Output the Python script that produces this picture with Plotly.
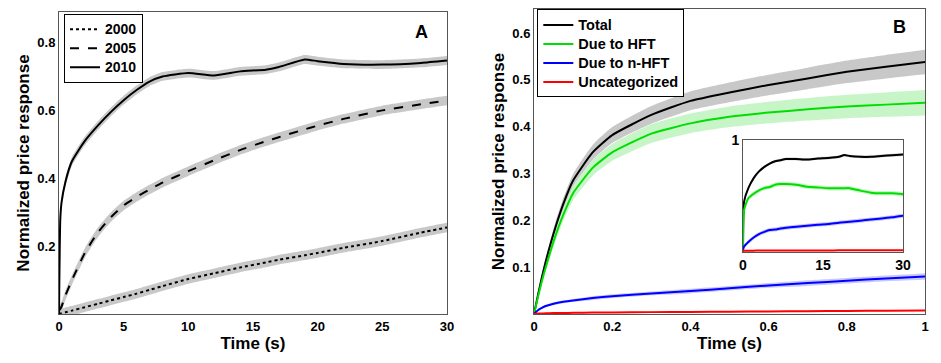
import plotly.graph_objects as go

# ---- panel A data ----
t_a = [0, 0.1, 0.2, 0.5, 1, 2, 3, 4, 5, 6, 7, 8, 10, 12, 14, 16, 17, 19, 20, 22, 25, 28, 30]
y2000 = [0, 0.001, 0.002, 0.005, 0.01, 0.02, 0.03, 0.04, 0.05, 0.06, 0.071, 0.082, 0.103,
         0.12, 0.137, 0.152, 0.16, 0.173, 0.18, 0.195, 0.215, 0.24, 0.255]
y2005 = [0.01, 0.015, 0.022, 0.055, 0.10, 0.18, 0.24, 0.285, 0.32, 0.345, 0.367, 0.387, 0.421,
         0.453, 0.483, 0.509, 0.521, 0.544, 0.555, 0.575, 0.60, 0.618, 0.629]
y2010 = [0, 0.28, 0.33, 0.39, 0.45, 0.51, 0.555, 0.595, 0.63, 0.66, 0.685, 0.70, 0.71,
         0.703, 0.715, 0.72, 0.728, 0.75, 0.745, 0.737, 0.735, 0.74, 0.747]
err_a = {"2000": 0.014, "2005": 0.014, "2010": 0.013}

# ---- panel B data ----
t_b = [0, 0.01, 0.02, 0.03, 0.05, 0.075, 0.1, 0.15, 0.2, 0.3, 0.4, 0.5, 0.6, 0.7, 0.8, 0.9, 1.0]
total = [0, 0.04, 0.078, 0.112, 0.172, 0.235, 0.285, 0.345, 0.382, 0.425, 0.455, 0.473, 0.489,
         0.503, 0.517, 0.528, 0.538]
hft = [0, 0.036, 0.07, 0.10, 0.155, 0.212, 0.258, 0.312, 0.345, 0.385, 0.407, 0.421, 0.43,
       0.437, 0.443, 0.447, 0.451]
nhft = [0, 0.008, 0.013, 0.017, 0.022, 0.026, 0.029, 0.034, 0.038, 0.044, 0.049, 0.055,
        0.061, 0.066, 0.071, 0.076, 0.08]
uncat = [0, 0.001, 0.001, 0.0015, 0.002, 0.002, 0.0025, 0.003, 0.003, 0.004, 0.0045, 0.005,
         0.0055, 0.006, 0.0065, 0.007, 0.0075]
err_total = [0, 0.004, 0.007, 0.009, 0.011, 0.013, 0.014, 0.016, 0.017, 0.019, 0.02, 0.021,
             0.022, 0.023, 0.024, 0.025, 0.026]
err_hft = [0, 0.004, 0.007, 0.009, 0.011, 0.013, 0.015, 0.017, 0.018, 0.02, 0.021, 0.022,
           0.023, 0.024, 0.025, 0.026, 0.027]
err_nhft = [0, 0.001, 0.002, 0.002, 0.003, 0.003, 0.003, 0.004, 0.004, 0.004, 0.005, 0.005,
            0.005, 0.006, 0.006, 0.006, 0.007]
err_uncat = [0.001] * len(t_b)

# ---- inset data ----
t_c = [0, 0.2, 1, 2, 3, 4, 5, 6, 7, 8, 10, 12, 14, 16, 18, 19, 20, 22, 24, 26, 28, 30]
in_total = [0, 0.45, 0.57, 0.66, 0.72, 0.76, 0.79, 0.81, 0.82, 0.83, 0.83, 0.825, 0.835,
            0.84, 0.85, 0.866, 0.857, 0.85, 0.85, 0.858, 0.865, 0.87]
in_hft = [0, 0.375, 0.48, 0.52, 0.55, 0.57, 0.58, 0.60, 0.607, 0.607, 0.60, 0.583, 0.577,
          0.57, 0.57, 0.57, 0.57, 0.548, 0.53, 0.524, 0.524, 0.515]
in_nhft = [0.02, 0.05, 0.09, 0.13, 0.16, 0.18, 0.196, 0.20, 0.21, 0.217, 0.226, 0.235, 0.244,
           0.25, 0.262, 0.266, 0.27, 0.28, 0.29, 0.30, 0.31, 0.324]
in_uncat = [0.01, 0.012, 0.012, 0.012, 0.013, 0.013, 0.013, 0.013, 0.013, 0.014, 0.014, 0.014,
            0.014, 0.014, 0.015, 0.015, 0.015, 0.015, 0.015, 0.015, 0.015, 0.015]
in_err = {"total": 0.012, "hft": 0.02, "nhft": 0.018, "uncat": 0.003}

FONT = "Liberation Sans, Arial, sans-serif"
fig = go.Figure()


def band(x, y, err, color, xa, ya):
    if not isinstance(err, list):
        err = [err] * len(x)
    up = [a + e for a, e in zip(y, err)]
    lo = [a - e for a, e in zip(y, err)]
    fig.add_trace(go.Scatter(x=x, y=up, mode="lines", line=dict(width=0, shape="spline", smoothing=0.5),
                             showlegend=False, hoverinfo="skip", xaxis=xa, yaxis=ya))
    fig.add_trace(go.Scatter(x=x, y=lo, mode="lines", line=dict(width=0, shape="spline", smoothing=0.5),
                             fill="tonexty", fillcolor=color, showlegend=False, hoverinfo="skip",
                             xaxis=xa, yaxis=ya))


def label(text, size):
    # legend row height follows legend.font.size; the span sets the drawn size
    return "<span style='font-size:%spx'><b>%s</b></span>" % (size, text)


# panel A
series_a = [("2000", y2000, "dot"), ("2005", y2005, "dash"), ("2010", y2010, "solid")]
for name, y, dash in series_a:
    band(t_a, y, err_a[name], "#c8c8c8", "x", "y")
for name, y, dash in series_a:
    fig.add_trace(go.Scatter(x=t_a, y=y, mode="lines", name=label(name, 14),
                             legend="legend",
                             line=dict(color="black", width=2, dash=dash, shape="spline", smoothing=0.5),
                             xaxis="x", yaxis="y"))

# panel B
series_b = [("Total", total, err_total, "black", "#c8c8c8"),
            ("Due to HFT", hft, err_hft, "#00dd00", "#c8f5c8"),
            ("Due to n-HFT", nhft, err_nhft, "#0000ff", "#c8c8ff"),
            ("Uncategorized", uncat, err_uncat, "#ff0000", "#ffc8c8")]
for name, y, e, c, fc in series_b:
    band(t_b, y, e, fc, "x2", "y2")
for name, y, e, c, fc in series_b:
    fig.add_trace(go.Scatter(x=t_b, y=y, mode="lines", name=label(name, 14.5),
                             legend="legend2",
                             line=dict(color=c, width=2, shape="spline", smoothing=0.5),
                             xaxis="x2", yaxis="y2"))

# inset
series_c = [("total", in_total, "black", "#c8c8c8"),
            ("hft", in_hft, "#00dd00", "#c8f5c8"),
            ("nhft", in_nhft, "#0000ff", "#c8c8ff"),
            ("uncat", in_uncat, "#ff0000", "#ffc8c8")]
for key, y, c, fc in series_c:
    band(t_c, y, in_err[key], fc, "x3", "y3")
for key, y, c, fc in series_c:
    fig.add_trace(go.Scatter(x=t_c, y=y, mode="lines", showlegend=False,
                             line=dict(color=c, width=2, shape="spline", smoothing=0.5),
                             xaxis="x3", yaxis="y3"))

ax = dict(showline=True, mirror=True, linecolor="#555", linewidth=1, showgrid=False,
          zeroline=False, ticks="", automargin=False,
          tickfont=dict(family=FONT, size=13, color="black"))


def bold(vals):
    return ["<b>" + v + "</b>" for v in vals]


fig.update_layout(
    width=941, height=363, margin=dict(l=0, r=0, t=0, b=0),
    plot_bgcolor="white", paper_bgcolor="white",
    font=dict(family=FONT, color="black"),
    xaxis=dict(ax, domain=[0.0627, 0.475], range=[0, 30], tickvals=[0, 5, 10, 15, 20, 25, 30],
               ticktext=bold(["0", "5", "10", "15", "20", "25", "30"]),
               title=dict(text="<b>Time (s)</b>", font=dict(size=17), standoff=0),
               anchor="y"),
    yaxis=dict(ax, domain=[0.135, 0.967], range=[0, 0.89], tickvals=[0.2, 0.4, 0.6, 0.8],
               ticktext=bold(["0.2", "0.4", "0.6", "0.8"]),
               title=dict(text="<b>Normalized price response</b>", font=dict(size=17), standoff=3),
               anchor="x"),
    xaxis2=dict(ax, domain=[0.5675, 0.983], range=[0, 1],
                tickvals=[0, 0.2, 0.4, 0.6, 0.8, 1],
                ticktext=bold(["0", "0.2", "0.4", "0.6", "0.8", "1"]),
                title=dict(text="<b>Time (s)</b>", font=dict(size=17), standoff=0),
                anchor="y2"),
    yaxis2=dict(ax, domain=[0.135, 0.975], range=[0, 0.651],
                tickvals=[0.1, 0.2, 0.3, 0.4, 0.5, 0.6],
                ticktext=bold(["0.1", "0.2", "0.3", "0.4", "0.5", "0.6"]),
                title=dict(text="<b>Normalized price response</b>", font=dict(size=17), standoff=3),
                anchor="x2"),
    xaxis3=dict(ax, domain=[0.7896, 0.9596], range=[0, 30], tickvals=[0, 15, 30],
                ticktext=bold(["0", "15", "30"]),
                tickfont=dict(family=FONT, size=14, color="black"), anchor="y3"),
    yaxis3=dict(ax, domain=[0.3058, 0.6143], range=[0, 1], tickvals=[1],
                ticktext=bold(["1"]), tickfont=dict(family=FONT, size=14, color="black"),
                anchor="x3"),
    legend=dict(x=0.068, y=0.962, xanchor="left", yanchor="top", bgcolor="white",
                bordercolor="black", borderwidth=1, tracegroupgap=0, traceorder="normal",
                font=dict(family=FONT, size=11.9, color="black")),
    legend2=dict(x=0.571, y=0.974, xanchor="left", yanchor="top", bgcolor="white",
                 bordercolor="black", borderwidth=1, tracegroupgap=0, traceorder="normal",
                 font=dict(family=FONT, size=11.8, color="black")),
    annotations=[
        dict(text="<b>A</b>", x=421 / 941, y=1 - 32 / 363, xref="paper", yref="paper",
             xanchor="center", yanchor="middle", showarrow=False,
             font=dict(family=FONT, size=18, color="black")),
        dict(text="<b>B</b>", x=899 / 941, y=1 - 27 / 363, xref="paper", yref="paper",
             xanchor="center", yanchor="middle", showarrow=False,
             font=dict(family=FONT, size=18, color="black")),
    ],
)

# drop the default page margin so the figure sits at the window's corner
fig.write_html("out.html", config={"displayModeBar": False},
               post_script="document.body.style.margin='0';")
